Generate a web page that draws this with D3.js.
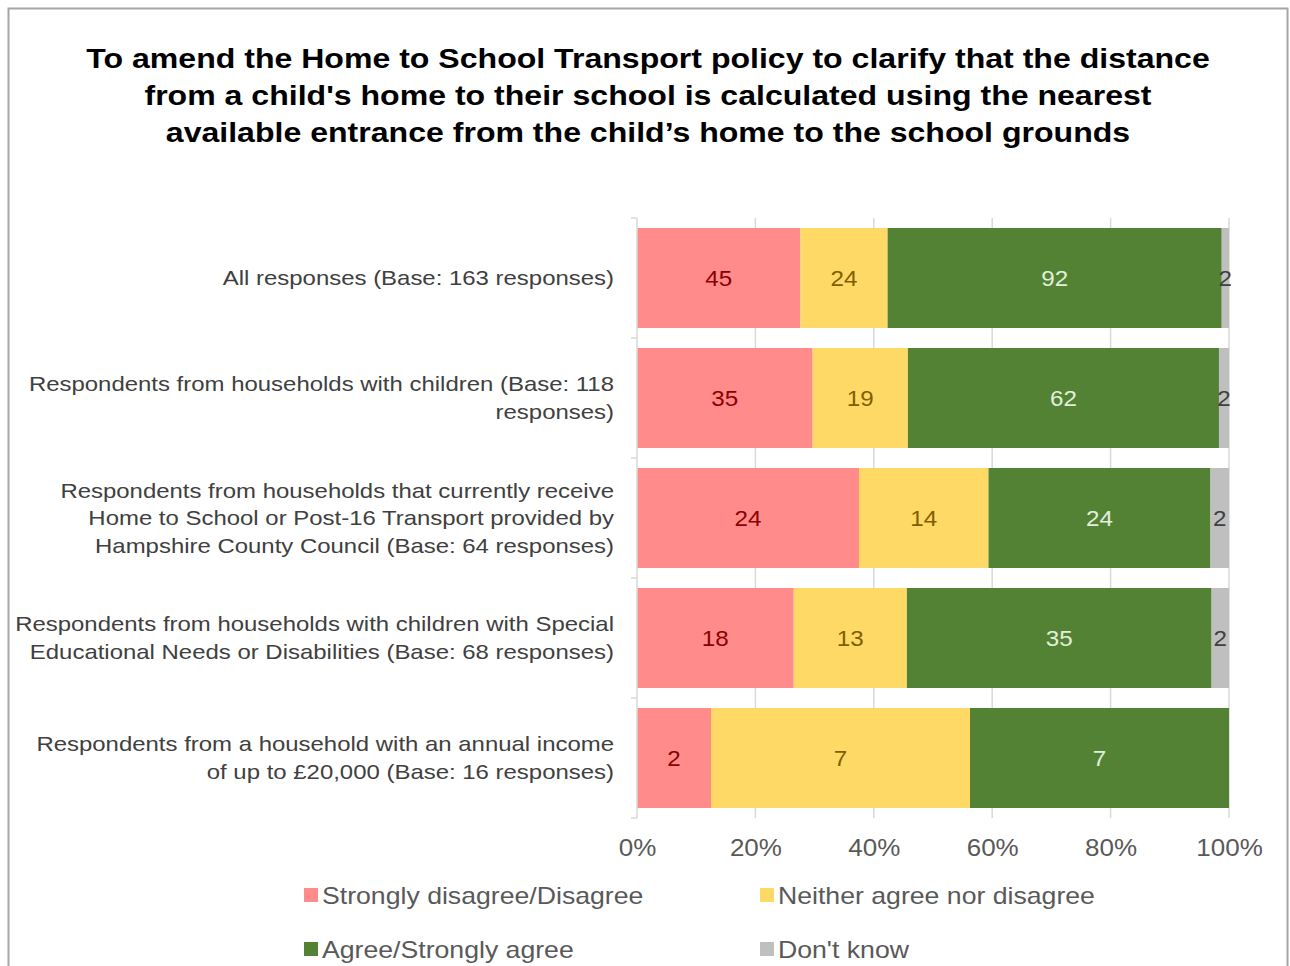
<!DOCTYPE html>
<html><head><meta charset="utf-8">
<script src="https://cdn.jsdelivr.net/npm/d3@7"></script>
<style>
html,body{margin:0;padding:0;background:#fff;}
svg{display:block;}
</style></head>
<body>
<svg id="chart" width="1290" height="966"></svg>
<script>
const categories = [
  ["All responses (Base: 163 responses)"],
  ["Respondents from households with children (Base: 118", "responses)"],
  ["Respondents from households that currently receive", "Home to School or Post-16 Transport provided by", "Hampshire County Council (Base: 64 responses)"],
  ["Respondents from households with children with Special", "Educational Needs or Disabilities (Base: 68 responses)"],
  ["Respondents from a household with an annual income", "of up to £20,000 (Base: 16 responses)"]
];
const seriesNames = ["Strongly disagree/Disagree", "Neither agree nor disagree", "Agree/Strongly agree", "Don't know"];
const disagree = [45, 35, 24, 18, 2];
const neither  = [24, 19, 14, 13, 7];
const agree    = [92, 62, 24, 35, 7];
const dontKnow = [2, 2, 2, 2, 0];
const tickValues = [0, 0.2, 0.4, 0.6, 0.8, 1.0];
const titleLines = [
  "To amend the Home to School Transport policy to clarify that the distance",
  "from a child's home to their school is calculated using the nearest",
  "available entrance from the child\u2019s home to the school grounds"
];

const colors = ["#FF8B8B", "#FFD966", "#548235", "#BFBFBF"];
const labelColors = ["#8B0000", "#7F6000", "#E2EFDA", "#404040"];
const FONT = "Liberation Sans, Arial, sans-serif";

// horizontal stretch helper (reference text is rendered wider)
function stretch(sel, f) {
  sel.each(function () {
    const w = this.getComputedTextLength();
    if (w > 0) d3.select(this).attr("textLength", w * f).attr("lengthAdjust", "spacingAndGlyphs");
  });
}

const svg = d3.select("#chart");
svg.append("rect").attr("x", 8.5).attr("y", 8.5).attr("width", 1279).attr("height", 970)
  .attr("fill", "#fff").attr("stroke", "#a6a6a6").attr("stroke-width", 2);

// title
const title = svg.append("g").selectAll("text").data(titleLines).join("text")
  .attr("x", 648).attr("y", (d, i) => 68 + i * 37)
  .attr("text-anchor", "middle")
  .attr("font-family", FONT)
  .attr("font-weight", "bold").attr("font-size", 28).attr("fill", "#000")
  .text(d => d);
stretch(title, 1.145);

const x0 = 637, x1 = 1229, yTop = 218, yBot = 818;
const x = d3.scaleLinear().domain([0, 1]).range([x0, x1]);
const y = d3.scaleBand().domain(d3.range(categories.length)).range([yTop, yBot]).paddingInner(1/6).paddingOuter(1/12);

// gridlines
svg.append("g").selectAll("line").data(tickValues.slice(1)).join("line")
  .attr("x1", d => x(d)).attr("x2", d => x(d)).attr("y1", yTop).attr("y2", yBot)
  .attr("stroke", "#d9d9d9").attr("stroke-width", 1.5);

const stackData = categories.map((c, i) => {
  const vals = [disagree[i], neither[i], agree[i], dontKnow[i]];
  const tot = d3.sum(vals);
  let acc = 0;
  return vals.map((v, k) => { const s = acc; acc += v; return {cat: i, k, v, s: s / tot, e: acc / tot}; });
});

const gBars = svg.append("g");
stackData.forEach(row => {
  row.forEach(seg => {
    if (seg.v === 0) return;
    gBars.append("rect")
      .attr("x", x(seg.s)).attr("y", y(seg.cat))
      .attr("width", x(seg.e) - x(seg.s)).attr("height", y.bandwidth())
      .attr("fill", colors[seg.k]);
  });
});
stackData.forEach(row => {
  row.forEach(seg => {
    if (seg.v === 0) return;
    const t = gBars.append("text")
      .attr("x", (x(seg.s) + x(seg.e)) / 2).attr("y", y(seg.cat) + y.bandwidth() / 2 + 8)
      .attr("text-anchor", "middle")
      .attr("font-family", FONT).attr("font-size", 22)
      .attr("fill", labelColors[seg.k])
      .text(seg.v);
    stretch(t, 1.1);
  });
});

// left axis line and ticks
const yAxisG = svg.append("g");
yAxisG.append("line").attr("x1", x0).attr("x2", x0).attr("y1", yTop).attr("y2", yBot)
  .attr("stroke", "#d9d9d9").attr("stroke-width", 1.5);
const bounds = d3.range(categories.length + 1).map(i => yTop + i * (yBot - yTop) / categories.length);
yAxisG.selectAll("line.t").data(bounds).join("line").attr("class", "t")
  .attr("x1", x0 - 6).attr("x2", x0).attr("y1", d => d).attr("y2", d => d)
  .attr("stroke", "#d9d9d9").attr("stroke-width", 1.5);

// x axis labels
const xAxis = d3.axisBottom(x).tickValues(tickValues).tickFormat(d3.format(".0%")).tickSize(0);
const xg = svg.append("g").attr("transform", `translate(0,${yBot + 19})`).call(xAxis);
xg.select(".domain").remove();
xg.selectAll("text").attr("font-family", FONT).attr("font-size", 23).attr("fill", "#595959");
stretch(xg.selectAll("text"), 1.13);

// category labels
categories.forEach((lines, i) => {
  const cy = y(i) + y.bandwidth() / 2;
  const lh = 27.5;
  const start = cy - (lines.length - 1) * lh / 2 + 7;
  const t = svg.append("g").selectAll("text").data(lines).join("text")
    .attr("x", 614).attr("y", (d, j) => start + j * lh)
    .attr("text-anchor", "end")
    .attr("font-family", FONT).attr("font-size", 21)
    .attr("fill", "#404040")
    .text(d => d);
  stretch(t, 1.14);
});

// legend
const legendPos = [[305, 896], [761, 896], [305, 950], [761, 950]];
seriesNames.forEach((n, i) => {
  const [lx, ly] = legendPos[i];
  svg.append("rect").attr("x", lx - 1).attr("y", ly - 8).attr("width", 14).attr("height", 14).attr("fill", colors[i]);
  const t = svg.append("text").attr("x", lx + 17).attr("y", ly + 8)
    .attr("font-family", FONT).attr("font-size", 24)
    .attr("fill", "#595959").text(n);
  stretch(t, 1.11);
});
</script>
</body></html>
